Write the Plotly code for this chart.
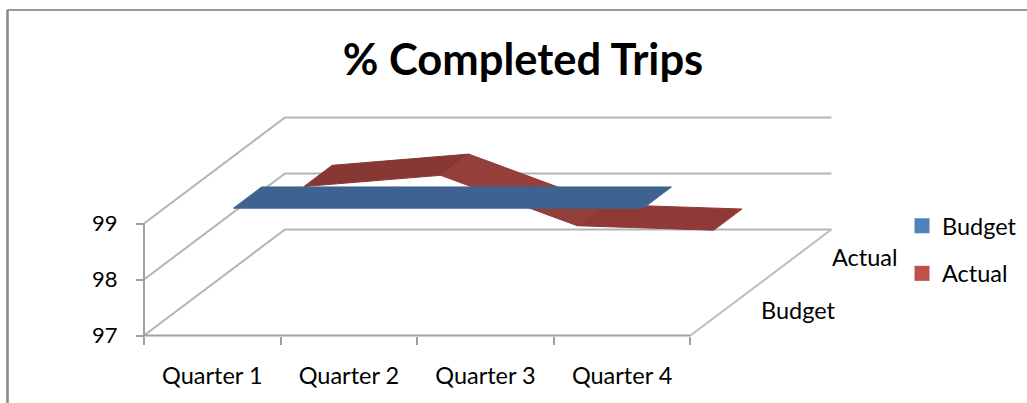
import plotly.graph_objects as go

# ---- data ----
quarters = ["Quarter 1", "Quarter 2", "Quarter 3", "Quarter 4"]
budget = [98.99, 98.99, 98.99, 98.99]
actual = [98.43, 98.63, 97.73, 97.65]
value_ticks = [97, 98, 99]
depth_labels = ["Budget", "Actual"]

# ---- page / oblique projection set-up ----
W, H = 1027, 403
X0, Y0 = 144.0, 335.5       # pixel of origin
PX_Q, PX_V = 136.6, 56.0    # pixels per quarter / per value unit
DEPTH_X, DEPTH_Y = 141.0 / PX_Q, 106.0 / PX_V
BAND = 0.2

def proj(q, v, d):
    """oblique projection of (quarter position, value, depth) into axis units"""
    return q + DEPTH_X * d, v + DEPTH_Y * d

GRID = "#b4b4b4"
AXIS = "#a0a0a0"
TXT = "#000000"
FONT = "Lato"
SIZE = 23.5
RIB_BLUE = ["#3e6391", "#3e6391", "#3e6391"]
RIB_RED = ["#873835", "#953f3b", "#8f3a37"]

fig = go.Figure()

def line(points, color=GRID, width=2):
    pts = [proj(*p) for p in points]
    fig.add_trace(go.Scatter(x=[p[0] for p in pts], y=[p[1] for p in pts], mode="lines",
                             line=dict(color=color, width=width), hoverinfo="skip", showlegend=False))

vmin, vmax = value_ticks[0], value_ticks[-1]
n = len(quarters)
# walls and floor
for v in value_ticks:
    line([(0, v, 0), (0, v, 1), (n, v, 1)])
line([(n, vmin, 0), (n, vmin, 1)], color="#bcbcbc", width=2)
# axes
line([(0, vmin, 0), (0, vmax, 0)], color=AXIS, width=2)
line([(0, vmin, 0), (n, vmin, 0)], color=AXIS, width=2)

def ribbon(values, centre_depth, colors):
    d0, d1 = centre_depth - BAND / 2, centre_depth + BAND / 2
    for i in range(len(values) - 1):
        corners = [(i + .5, values[i], d0), (i + .5, values[i], d1),
                   (i + 1.5, values[i + 1], d1), (i + 1.5, values[i + 1], d0),
                   (i + .5, values[i], d0)]
        pts = [proj(*c) for c in corners]
        fig.add_trace(go.Scatter(x=[p[0] for p in pts], y=[p[1] for p in pts], mode="lines",
                                 fill="toself", fillcolor=colors[i],
                                 line=dict(color=colors[i], width=1),
                                 hoverinfo="skip", showlegend=False))

ribbon(actual, 0.75, RIB_RED)
ribbon(budget, 0.25, RIB_BLUE)

# depth-axis tick marks
for d in [0, 0.5, 1]:
    a = proj(n, vmin, d)
    fig.add_shape(type="line", xref="x", yref="y", x0=a[0], y0=a[1], x1=a[0] + 8 / PX_Q, y1=a[1],
                  line=dict(color=AXIS, width=1.2))

# depth-axis labels
for name, d, shift in zip(depth_labels, [0.25, 0.75], [73, 69]):
    a = proj(n, vmin, d)
    fig.add_annotation(x=a[0], y=a[1], xref="x", yref="y", text=name, showarrow=False, xshift=shift, yshift=-1,
                       font=dict(family=FONT, size=SIZE, color=TXT))

# legend entries
fig.add_trace(go.Scatter(x=[None], y=[None], mode="markers", name="Budget", legendgroup="b",
                         marker=dict(symbol="square", size=15, color="#4f81bd")))
fig.add_trace(go.Scatter(x=[None], y=[None], mode="markers", name="Actual", legendgroup="a",
                         marker=dict(symbol="square", size=15, color="#c0504d")))

fig.update_layout(
    width=W, height=H, autosize=False,
    margin=dict(l=0, r=0, t=0, b=0),
    paper_bgcolor="white", plot_bgcolor="white",
    font=dict(family=FONT, size=SIZE, color=TXT),
    title=dict(text="<b>% Completed Trips</b>", x=523 / W, y=1 - 60 / H, xanchor="center", yanchor="middle",
               xref="paper", yref="paper", font=dict(family=FONT, size=43.5, color=TXT)),
    xaxis=dict(range=[-X0 / PX_Q, (W - X0) / PX_Q], domain=[0, 1], anchor="free", position=1 - Y0 / H,
               showgrid=False, zeroline=False, showline=False,
               tickmode="array", tickvals=[i + .5 for i in range(n)], ticktext=quarters,
               ticks="", ticklabelstandoff=24, tickfont=dict(family=FONT, size=SIZE, color=TXT),
               minor=dict(tickmode="array", tickvals=list(range(n + 1)), ticks="outside", ticklen=8,
                          tickcolor=AXIS, tickwidth=1.5, showgrid=False)),
    yaxis=dict(range=[vmin - (H - Y0) / PX_V, vmin + Y0 / PX_V], domain=[0, 1], anchor="free", position=X0 / W,
               showgrid=False, zeroline=False, showline=False,
               tickmode="array", tickvals=value_ticks, ticks="outside", ticklen=8,
               tickcolor=AXIS, tickwidth=1.5, ticklabelstandoff=14,
               tickfont=dict(family=FONT, size=22, color=TXT)),
    legend=dict(x=902 / W, y=1 - 204 / H, xanchor="left", yanchor="top", tracegroupgap=14,
                itemsizing="trace", itemwidth=30, bgcolor="rgba(0,0,0,0)",
                font=dict(family=FONT, size=SIZE, color=TXT)),
    shapes=[
        dict(type="line", xref="paper", yref="paper", x0=7.5 / W, x1=7.5 / W, y0=0, y1=1 - 10 / H,
             line=dict(color="#888888", width=2)),
        dict(type="line", xref="paper", yref="paper", x0=7 / W, x1=1, y0=1 - 10 / H, y1=1 - 10 / H,
             line=dict(color="#999999", width=2)),
    ],
)

fig.write_html("out.html", config={"displayModeBar": False},
               post_script="document.body.style.margin='0';document.body.style.overflow='hidden';")
